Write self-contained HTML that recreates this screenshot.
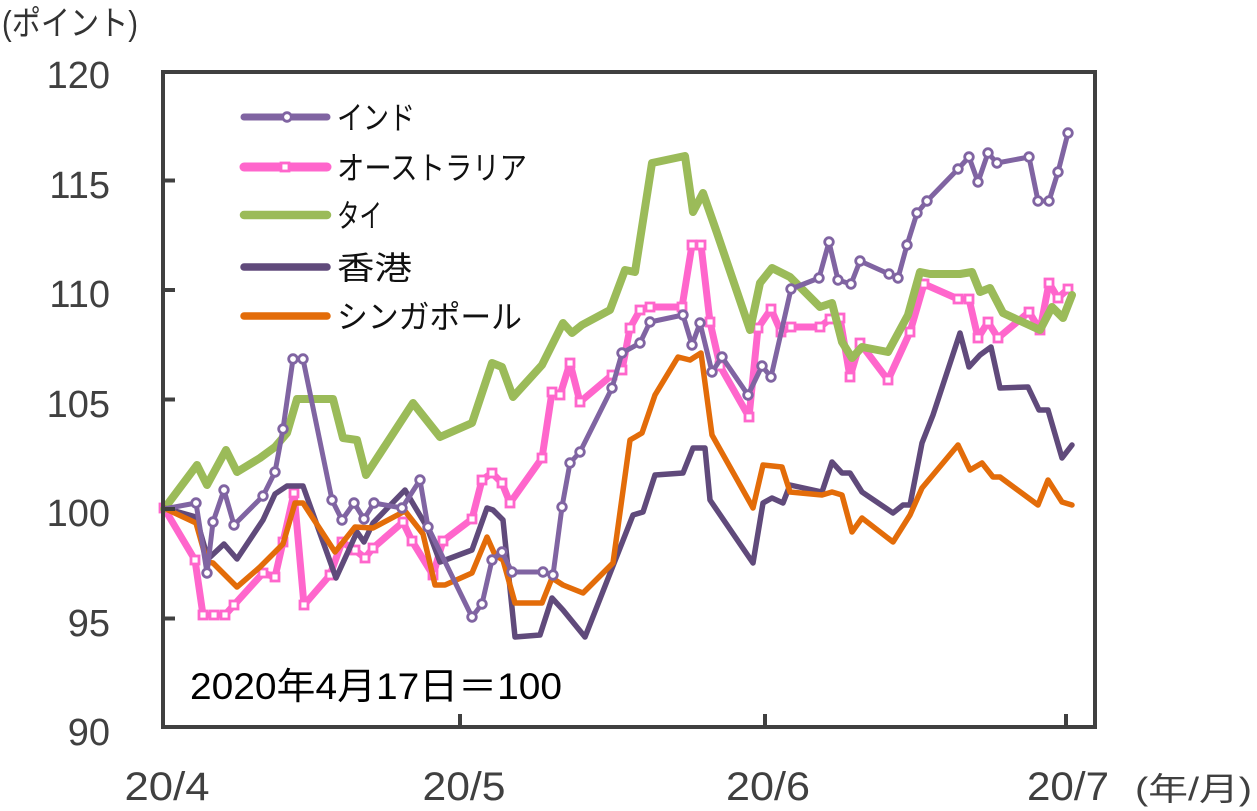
<!DOCTYPE html>
<html>
<head>
<meta charset="utf-8">
<style>
  html,body{margin:0;padding:0;background:#fff;}
  svg{display:block;}
  text{font-family:"Liberation Sans","Noto Sans CJK JP",sans-serif;}
</style>
</head>
<body>
<svg width="1257" height="811" viewBox="0 0 1257 811" xmlns="http://www.w3.org/2000/svg">
  <defs>
    <marker id="mc" markerWidth="16" markerHeight="16" refX="8" refY="8" markerUnits="userSpaceOnUse">
      <circle cx="8" cy="8" r="4.3" fill="#fff" stroke="#8064A2" stroke-width="2.8"/>
    </marker>
    <marker id="ms" markerWidth="16" markerHeight="16" refX="8" refY="8" markerUnits="userSpaceOnUse">
      <rect x="4" y="4" width="8" height="8" fill="#fff" stroke="#FF66CC" stroke-width="2.8"/>
    </marker>
  </defs>
  <rect x="0" y="0" width="1257" height="811" fill="#ffffff"/>

  <text x="2" y="35" font-size="34" fill="#333" textLength="136" lengthAdjust="spacingAndGlyphs">(ポイント)</text>

  <g font-size="38" fill="#404040" text-anchor="end">
    <text x="110" y="88">120</text>
    <text x="110" y="198">115</text>
    <text x="110" y="307">110</text>
    <text x="110" y="417">105</text>
    <text x="110" y="526">100</text>
    <text x="110" y="636">95</text>
    <text x="110" y="745">90</text>
  </g>

  <g font-size="40" fill="#404040" text-anchor="middle">
    <text x="167" y="800" textLength="85" lengthAdjust="spacingAndGlyphs">20/4</text>
    <text x="464" y="800" textLength="83" lengthAdjust="spacingAndGlyphs">20/5</text>
    <text x="768" y="800" textLength="84" lengthAdjust="spacingAndGlyphs">20/6</text>
    <text x="1068" y="800" textLength="82" lengthAdjust="spacingAndGlyphs">20/7</text>
  </g>
  <text x="1135" y="800" font-size="32" fill="#404040" textLength="117" lengthAdjust="spacingAndGlyphs">(年/月)</text>

  <g fill="none" stroke-linejoin="round" stroke-linecap="round">
    <polyline stroke="#FF66CC" stroke-width="7" marker-start="url(#ms)" marker-mid="url(#ms)" marker-end="url(#ms)" points="164,508 195,560 203,615 214,615 225,615 234,605 263,573 275,577 283,542 294,493 304,605 330,575 342,542 355,550 365,558 373,548 403,522 412,541 433,575 443,541 472,519 482,480 492,473 502,483 510,503 542,458 552,392 560,395 570,363 580,402 612,375 622,370 630,328 640,310 650,307 682,307 692,245 701,245 710,322 720,366 749,417 758,328 771,309 781,332 791,327 820,327 830,319 840,318 850,377 860,343 888,380 910,332 924,284 958,299 969,299 978,338 988,322 998,338 1029,312 1040,330 1049,283 1058,298 1068,289"/>
    <polyline stroke="#9BBB59" stroke-width="8" points="164,509 197,465 207,485 226,450 237,472 260,458 275,447 287,433 297,399 333,399 343,438 357,440 366,475 413,403 440,437 472,423 492,363 502,367 513,397 542,365 563,323 572,333 582,325 610,310 625,270 635,272 652,163 685,156 693,212 703,193 717,233 750,330 760,283 772,268 790,277 820,307 832,303 842,342 852,358 862,347 888,352 908,315 920,272 930,274 960,274 972,272 980,292 990,288 1003,313 1040,330 1052,307 1063,318 1072,295"/>
    <polyline stroke="#604A7B" stroke-width="5.5" points="164,508 196,517 208,559 224,544 237,559 263,520 275,494 287,486 303,486 336,578 357,532 364,542 373,523 405,490 415,507 427,527 440,562 472,550 487,508 493,510 503,520 515,637 540,635 552,598 563,610 585,637 633,515 643,512 655,475 683,473 693,448 705,448 710,500 753,563 763,503 772,498 783,503 790,485 822,492 832,462 842,473 850,473 862,492 893,513 903,505 910,505 922,443 933,415 960,333 969,367 980,355 991,347 1000,388 1028,387 1039,410 1048,410 1062,458 1072,445"/>
    <polyline stroke="#E36C09" stroke-width="5.5" points="164,508 196,523 207,562 213,563 237,587 260,567 283,544 295,503 303,503 335,552 355,527 373,528 405,511 423,534 435,585 445,585 472,573 487,537 495,555 503,560 515,603 542,603 552,578 563,585 583,593 613,563 630,440 642,433 655,395 678,357 690,360 701,353 712,435 753,508 763,465 782,467 790,492 822,495 832,492 842,495 852,532 862,518 893,542 910,515 922,488 958,445 970,470 982,463 993,477 1000,477 1038,505 1048,480 1062,502 1072,505"/>
    <polyline stroke="#8064A2" stroke-width="5" marker-mid="url(#mc)" marker-end="url(#mc)" points="164,509 196,503 207,573 213,522 224,490 234,525 263,496 275,472 283,429 293,359 303,359 332,500 342,520 354,503 364,519 374,503 402,508 420,480 428,527 472,617 482,604 492,560 502,552 512,572 543,572 553,575 562,507 570,463 580,452 612,388 622,353 640,343 650,322 683,315 692,345 700,323 712,372 722,357 748,395 762,366 771,377 791,289 819,278 829,242 838,280 851,284 860,261 889,274 898,278 907,245 917,213 927,201 958,169 969,157 978,182 988,153 997,163 1029,157 1038,201 1049,201 1058,172 1068,133"/>
  </g>

  <g stroke="#404040" stroke-width="4" fill="none">
    <rect x="163" y="72" width="932" height="655"/>
    <line x1="163" y1="180.5" x2="175" y2="180.5"/>
    <line x1="163" y1="290" x2="175" y2="290"/>
    <line x1="163" y1="399.5" x2="175" y2="399.5"/>
    <line x1="163" y1="509" x2="175" y2="509"/>
    <line x1="163" y1="618.5" x2="175" y2="618.5"/>
    <line x1="460" y1="727" x2="460" y2="714"/>
    <line x1="765" y1="727" x2="765" y2="714"/>
    <line x1="1066" y1="727" x2="1066" y2="714"/>
  </g>

  <g stroke-linecap="round" fill="none">
    <line x1="244" y1="117" x2="327" y2="117" stroke="#8064A2" stroke-width="7"/>
    <line x1="244" y1="167" x2="327" y2="167" stroke="#FF66CC" stroke-width="9"/>
    <line x1="244" y1="215" x2="327" y2="215" stroke="#9BBB59" stroke-width="8.5"/>
    <line x1="244" y1="267" x2="327" y2="267" stroke="#604A7B" stroke-width="7.5"/>
    <line x1="244" y1="316" x2="327" y2="316" stroke="#E36C09" stroke-width="7.5"/>
  </g>
  <circle cx="287" cy="117" r="4.3" fill="#fff" stroke="#8064A2" stroke-width="2.8"/>
  <rect x="281" y="163" width="8" height="8" fill="#fff" stroke="#FF66CC" stroke-width="2.8"/>
  <g font-size="32" fill="#111">
    <text x="337" y="129" textLength="78" lengthAdjust="spacingAndGlyphs">インド</text>
    <text x="337" y="179" textLength="190" lengthAdjust="spacingAndGlyphs">オーストラリア</text>
    <text x="337" y="227" textLength="45" lengthAdjust="spacingAndGlyphs">タイ</text>
    <text x="337" y="279" textLength="75" lengthAdjust="spacingAndGlyphs">香港</text>
    <text x="337" y="328" textLength="185" lengthAdjust="spacingAndGlyphs">シンガポール</text>
  </g>

  <text x="190" y="699" font-size="37" fill="#000" textLength="372" lengthAdjust="spacingAndGlyphs">2020年4月17日＝100</text>
</svg>
</body>
</html>
